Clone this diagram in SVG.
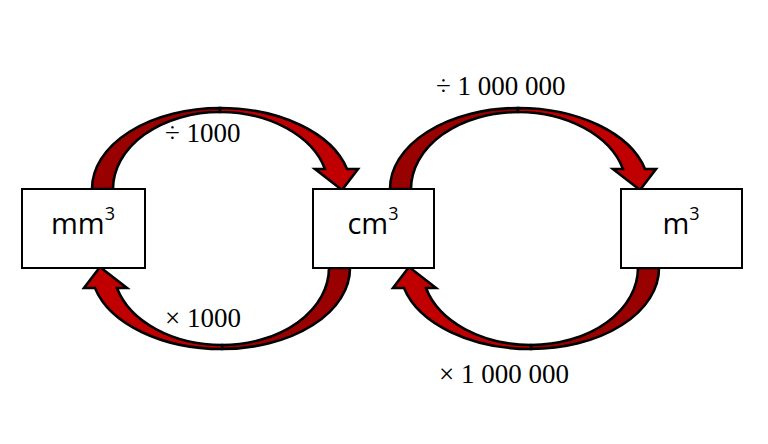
<svg xmlns="http://www.w3.org/2000/svg" xmlns:xlink="http://www.w3.org/1999/xlink" width="768" height="444" viewBox="0 0 768 444">
<style>
.box{fill:#ffffff;stroke:#000000;stroke-width:2}
.unit{font-family:"Open Sans","Noto Sans",sans-serif;font-size:29px;fill:#000000}
.sup{font-size:18px}
.lbl{font-family:"Liberation Serif","DejaVu Serif",serif;font-size:27px;fill:#000000}
.back{fill:#990000;stroke:#000000;stroke-width:2.6;stroke-linejoin:miter}
.front{fill:#C00000;stroke:#000000;stroke-width:2.6;stroke-linejoin:miter}
</style>
<defs>
<g id="curvedArrow">
<path class="back" d="M -128,0 A 128 81 0 0 1 0,-81 L 0,-77 A 107 77 0 0 0 -107,0 Z"/>
<path class="front" d="M 0,-81 A 131 81 0 0 1 127,-20 L 138,-20 L 122,1 L 95,-20 L 105,-20 A 109 77 0 0 0 0,-77 Z"/>
</g>
</defs>
<rect width="768" height="444" fill="#ffffff"/>
<g id="connectors">
<use xlink:href="#curvedArrow" transform="translate(220,189)"/>
<use xlink:href="#curvedArrow" transform="translate(222,268) rotate(180)"/>
<use xlink:href="#curvedArrow" transform="translate(518,189)"/>
<use xlink:href="#curvedArrow" transform="translate(531,268) rotate(180)"/>
</g>
<g id="node-mm3">
<rect class="box" x="22" y="189" width="123" height="79"/>
<text class="unit" x="83" y="234" text-anchor="middle">mm<tspan class="sup" dy="-14">3</tspan></text>
</g>
<g id="node-cm3">
<rect class="box" x="313" y="189" width="121" height="79"/>
<text class="unit" x="373" y="234" text-anchor="middle">cm<tspan class="sup" dy="-14">3</tspan></text>
</g>
<g id="node-m3">
<rect class="box" x="621" y="189" width="121" height="79"/>
<text class="unit" x="681" y="234" text-anchor="middle">m<tspan class="sup" dy="-14">3</tspan></text>
</g>
<g id="labels">
<text class="lbl" x="165" y="142">÷ 1000</text>
<text class="lbl" x="165" y="327">× 1000</text>
<text class="lbl" x="436" y="95">÷ 1 000 000</text>
<text class="lbl" x="439" y="383">× 1 000 000</text>
</g>
</svg>
